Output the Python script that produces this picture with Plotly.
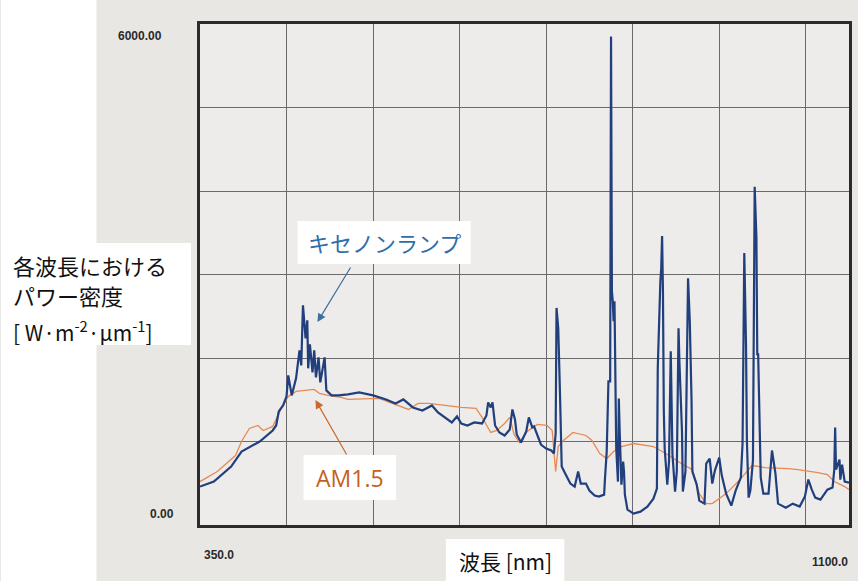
import plotly.graph_objects as go

# ---------------- data ----------------
xenon_nm = [350, 366, 386, 398, 419, 434, 438, 441, 446, 450, 452, 456, 461, 465, 467, 469, 472, 474, 475, 477,
            480, 482, 484, 487, 489, 494, 496, 502, 510, 521, 534, 550, 565, 576, 585, 596, 607, 618, 625, 633,
            641, 647, 652, 659, 667, 676, 681, 683, 686, 688, 691, 696, 702, 708, 711, 714, 716, 721, 727, 730,
            734, 736, 740, 744, 750, 756, 759, 761, 762, 764, 766, 768, 772, 778, 783, 787, 790, 796, 800, 806,
            811, 817, 818, 820, 822, 824, 825, 826, 827, 828, 829, 830, 831, 833, 834, 835, 837, 839, 840, 841,
            844, 851, 859, 867, 874, 878, 879, 882, 883, 884, 885, 886, 887, 890, 892, 894, 895, 896, 899, 901,
            903, 904, 907, 908, 911, 914, 916, 918, 919, 924, 927, 933, 935, 939, 942, 945, 950, 953, 958, 964,
            969, 975, 977, 978, 979, 981, 982, 984, 986, 989, 990, 991, 993, 994, 995, 998, 1001, 1007, 1011, 1015,
            1018, 1027, 1035, 1043, 1049, 1053, 1057, 1061, 1067, 1075, 1081, 1083, 1084, 1085, 1089, 1090, 1092, 1095, 1100]
xenon_val = [460, 520, 700, 880, 1000, 1132, 1192, 1360, 1432, 1540, 1792, 1552, 1756, 2092, 1912, 2632, 2236, 2452, 1876, 2164,
             1828, 2092, 1768, 2008, 1708, 2008, 1612, 1552, 1552, 1564, 1588, 1552, 1504, 1456, 1504, 1408, 1372, 1432, 1348, 1288,
             1228, 1300, 1216, 1192, 1228, 1216, 1312, 1468, 1408, 1468, 1192, 1108, 1072, 1144, 1384, 1264, 1084, 988, 1120, 1288,
             1168, 1180, 1060, 964, 916, 892, 856, 1096, 2600, 2356, 1576, 700, 616, 496, 460, 640, 496, 496, 412, 352,
             340, 364, 556, 880, 1720, 1720, 5850, 2800, 2680, 2440, 2680, 1924, 916, 520, 1516, 1120, 484, 760, 640, 364,
             184, 136, 160, 220, 316, 436, 1876, 2920, 3076, 3460, 2800, 1360, 916, 484, 760, 2080, 1360, 844, 400, 640,
             2356, 1960, 1120, 400, 640, 2956, 2440, 1516, 640, 484, 292, 256, 736, 796, 496, 652, 808, 592, 376, 232,
             412, 568, 976, 2212, 3256, 2152, 1012, 328, 412, 772, 2092, 4050, 3448, 2032, 2056, 568, 376, 376, 892, 616,
             256, 208, 256, 220, 340, 544, 424, 328, 304, 424, 448, 664, 1168, 664, 784, 544, 724, 520, 508]

am15_nm = [350, 370, 391, 398, 407, 417, 423, 434, 444, 452, 461, 475, 482, 488, 498, 513, 521, 557, 576, 591,
           602, 614, 633, 652, 669, 676, 686, 693, 702, 708, 713, 719, 728, 740, 751, 757, 761, 764, 770, 781,
           796, 803, 812, 820, 828, 837, 851, 874, 890, 908, 919, 927, 935, 942, 958, 973, 988, 1003, 1030, 1041,
           1064, 1075, 1083, 1095, 1100]
am15_val = [520, 640, 832, 1000, 1156, 1192, 1132, 1180, 1396, 1540, 1600, 1612, 1624, 1576, 1552, 1528, 1504, 1516, 1444, 1384,
            1456, 1456, 1432, 1408, 1396, 1288, 1108, 1132, 1216, 1288, 1084, 988, 1120, 1204, 1192, 1132, 640, 940, 1012, 1108,
            1072, 1012, 856, 796, 880, 940, 976, 940, 844, 724, 664, 376, 256, 256, 376, 532, 712, 688, 676, 664,
            628, 604, 520, 460, 424]

x_range = [350, 1100]
y_range = [0, 6000]
y_tick_labels = ["0.00", "6000.00"]
x_tick_labels = ["350.0", "1100.0"]
y_title_lines = ["各波長における", "パワー密度", "[ W·m<sup>-2</sup>·μm<sup>-1</sup>]"]

# ---------------- layout helpers (pixel -> paper) ----------------
W, H = 858, 581
L, R, T, B = 200, 852, 24, 525


def px(x):
    return (x - L) / (R - L)


def py(y):
    return (B - y) / (B - T)


fig = go.Figure()
fig.add_trace(go.Scatter(x=am15_nm, y=am15_val, mode="lines",
                         line=dict(color="#e58a52", width=1.3), name="AM1.5"))
fig.add_trace(go.Scatter(x=xenon_nm, y=xenon_val, mode="lines",
                         line=dict(color="#213f7c", width=2.2), name="キセノンランプ"))

shapes = [
    dict(type="rect", xref="paper", yref="paper", x0=px(0), x1=px(96), y0=py(H), y1=py(0),
         fillcolor="white", line=dict(width=0), layer="below"),
    dict(type="rect", xref="paper", yref="paper", x0=px(3), x1=px(191), y0=py(345), y1=py(243),
         fillcolor="white", line=dict(width=0), layer="above"),
    dict(type="rect", xref="paper", yref="paper", x0=px(298), x1=px(472), y0=py(264), y1=py(221),
         fillcolor="white", line=dict(width=0), layer="above"),
    dict(type="rect", xref="paper", yref="paper", x0=px(304), x1=px(397), y0=py(500), y1=py(455),
         fillcolor="white", line=dict(width=0), layer="above"),
    dict(type="rect", xref="paper", yref="paper", x0=px(447), x1=px(566), y0=py(H), y1=py(539),
         fillcolor="white", line=dict(width=0), layer="above"),
]

jp = "Noto Sans CJK JP"
lab_font = dict(family="Liberation Sans", size=12, color="#2a2a2a")
annotations = [
    dict(x=px(10), y=py(265), xref="paper", yref="paper", xanchor="left", yanchor="middle",
         text=y_title_lines[0], showarrow=False, font=dict(family=jp, size=22, color="#111111")),
    dict(x=px(10), y=py(295), xref="paper", yref="paper", xanchor="left", yanchor="middle",
         text=y_title_lines[1], showarrow=False, font=dict(family=jp, size=22, color="#111111")),
    dict(x=px(10), y=py(331), xref="paper", yref="paper", xanchor="left", yanchor="middle",
         text=y_title_lines[2], showarrow=False, font=dict(family=jp, size=21, color="#111111")),
    dict(x=px(385), y=py(242), xref="paper", yref="paper", xanchor="center", yanchor="middle",
         text="キセノンランプ", showarrow=False, font=dict(family=jp, size=22, color="#2f6ea8")),
    dict(x=px(351), y=py(478), xref="paper", yref="paper", xanchor="center", yanchor="middle",
         text="AM1.5", showarrow=False, font=dict(family="Open Sans", size=23, color="#c5611f")),
    dict(x=px(507), y=py(561), xref="paper", yref="paper", xanchor="center", yanchor="middle",
         text="波長 [nm]", showarrow=False, font=dict(family=jp, size=21, color="#111111")),
    dict(x=px(318), y=py(322), xref="paper", yref="paper", ax=34, ay=-56, text="", showarrow=True,
         arrowhead=2, arrowsize=1.4, arrowwidth=1.2, arrowcolor="#3f6f9a"),
    dict(x=px(316), y=py(400), xref="paper", yref="paper", ax=32, ay=56, text="", showarrow=True,
         arrowhead=2, arrowsize=1.4, arrowwidth=1.2, arrowcolor="#c96a2c"),
    dict(x=px(164), y=py(36), xref="paper", yref="paper", xanchor="right", yanchor="middle",
         text="<b>" + y_tick_labels[1] + "</b>", showarrow=False, font=lab_font),
    dict(x=px(176), y=py(514), xref="paper", yref="paper", xanchor="right", yanchor="middle",
         text="<b>" + y_tick_labels[0] + "</b>", showarrow=False, font=lab_font),
    dict(x=px(202), y=py(555), xref="paper", yref="paper", xanchor="left", yanchor="middle",
         text="<b>" + x_tick_labels[0] + "</b>", showarrow=False, font=lab_font),
    dict(x=px(853), y=py(562), xref="paper", yref="paper", xanchor="right", yanchor="middle",
         text="<b>" + x_tick_labels[1] + "</b>", showarrow=False, font=lab_font),
]

fig.update_layout(
    width=W, height=H,
    margin=dict(l=L, r=W - R, t=T, b=H - B, pad=0),
    paper_bgcolor="#e8e7e3",
    plot_bgcolor="#edecea",
    showlegend=False,
    shapes=shapes,
    annotations=annotations,
)
fig.update_xaxes(range=x_range, tick0=350, dtick=100, showticklabels=False, ticks="",
                 showgrid=True, gridcolor="#6a6a6a", gridwidth=1, zeroline=False,
                 showline=True, linecolor="#2b2b2b", linewidth=2.5, mirror=True)
fig.update_yaxes(range=y_range, tick0=0, dtick=1000, showticklabels=False, ticks="",
                 showgrid=True, gridcolor="#6a6a6a", gridwidth=1, zeroline=False,
                 showline=True, linecolor="#2b2b2b", linewidth=2.5, mirror=True)

fig.write_html("out.html")
